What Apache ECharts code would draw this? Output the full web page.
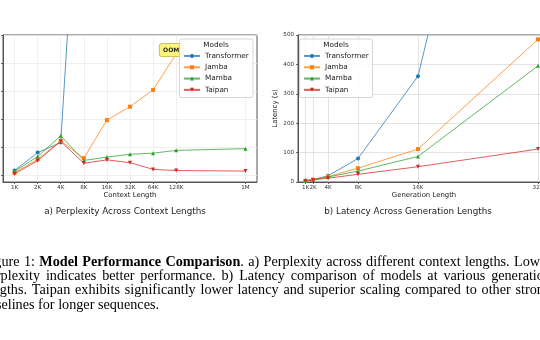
<!DOCTYPE html>
<html>
<head>
<meta charset="utf-8">
<script src="https://cdn.jsdelivr.net/npm/echarts@6/dist/echarts.min.js"></script>
<style>html,body{margin:0;padding:0;background:#fff}#c{width:540px;height:340px}</style>
</head>
<body>
<div id="c"></div>
<script>
// ---- data ----
const modelNames = ['Transformer', 'Jamba', 'Mamba', 'Taipan'];
const modelColors = ['#1f77b4', '#ff7f0e', '#2ca02c', '#d62728'];
const modelSymbols = ['circle', 'rect', 'triangle', 'triangle'];
const modelSymbolRotate = [0, 0, 0, 180];

// a) perplexity vs context length (K tokens)
const contextLabels = ['1K', '2K', '4K', '8K', '16K', '32K', '64K', '128K', '1M'];
const contextK = [1, 2, 4, 8, 16, 32, 64, 128, 1024];
const pplTransformer = [10.8, 14.0, 15.8, 82, null, null, null, null, null];
const pplJamba = [10.4, 12.8, 16.1, 13.0, 19.8, 22.2, 25.2, 31.6, null];
const pplMamba = [10.65, 13.3, 17.0, 12.6, 13.2, 13.7, 13.9, 14.4, 14.7];
const pplTaipan = [10.2, 12.55, 16.0, 12.1, 12.7, 12.2, 11.0, 10.8, 10.7];
const pplTicks = [10, 15, 20, 25, 30, 35];
const oomIndex = 7;

// b) latency vs generation length (K tokens)
const genLabels = ['1K', '2K', '4K', '8K', '16K', '32K'];
const genK = [1, 2, 4, 8, 16, 32];
const latTransformer = [4, 8, 21, 80, 360, 2050];
const latJamba = [4, 8, 18, 47, 112, 485];
const latMamba = [4, 8, 17, 37, 87, 395];
const latTaipan = [3, 7, 13, 26, 52, 112];
const latTicks = [0, 100, 200, 300, 400, 500];

// figure caption lines ([text, bold] segments)
const captionLines = [
  [['Figure 1: ', false], ['Model Performance Comparison', true], ['. a) Perplexity across different context lengths. Lower', false]],
  [['perplexity indicates better performance.  b) Latency comparison of models at various generation', false]],
  [['lengths.  Taipan exhibits significantly lower latency and superior scaling compared to other strong', false]],
  [['baselines for longer sequences.', false]]
];

const pplSeries = [pplTransformer, pplJamba, pplMamba, pplTaipan];
const latSeries = [latTransformer, latJamba, latMamba, latTaipan];

// ---- chart ----
const FONT = 'DejaVu Sans';
const SERIF = 'Liberation Serif';
const CAP_SIZE = 14.2;
const chart = echarts.init(document.getElementById('c'), null, { renderer: 'canvas' });

const ctxX = contextK.map(k => Math.log2(k));

function pplData(vals, si) {
  const out = [];
  vals.forEach((v, i) => {
    if (v === null) return;
    const item = { value: [ctxX[i], v] };
    if (si === 1 && i === oomIndex) {
      item.label = {
        show: true, formatter: 'OOM', position: 'inside', offset: [-5, -4],
        fontSize: 6, fontWeight: 'bold', color: '#222', fontFamily: FONT,
        backgroundColor: '#fdf57a', borderColor: '#b8b060', borderWidth: 0.8,
        borderRadius: 3, padding: [3.5, 3.5, 3, 3.5]
      };
    }
    out.push(item);
  });
  return out;
}

const series = [];
modelNames.forEach((name, si) => {
  const common = {
    name, type: 'line', symbol: modelSymbols[si], symbolRotate: modelSymbolRotate[si],
    symbolSize: 4, showSymbol: true, animation: false, clip: true,
    lineStyle: { width: 1, color: modelColors[si], opacity: 0.75 },
    itemStyle: { color: modelColors[si] }, z: 2
  };
  series.push(Object.assign({}, common, {
    xAxisIndex: 0, yAxisIndex: 0, data: pplData(pplSeries[si], si)
  }));
  series.push(Object.assign({}, common, {
    xAxisIndex: 1, yAxisIndex: 1, data: genK.map((k, i) => [k, latSeries[si][i]])
  }));
});

// justified caption text layout
const mctx = document.createElement('canvas').getContext('2d');
function measure(t, bold) {
  mctx.font = (bold ? 'bold ' : '') + CAP_SIZE + 'px "' + SERIF + '"';
  return mctx.measureText(t).width;
}
const capLeft = -17.5, capRight = 551, capTop = 262, capLead = 14.3;
const captionGraphics = [];
captionLines.forEach((segs, li) => {
  const words = [];
  segs.forEach(([txt, bold]) => {
    const parts = txt.split(/(\s+)/);
    parts.forEach(p => {
      if (p === '') return;
      if (/^\s+$/.test(p)) { words.push({ space: true }); return; }
      const last = words[words.length - 1];
      if (last && !last.space) { last.pieces.push([p, bold]); }
      else words.push({ pieces: [[p, bold]] });
    });
  });
  const ws = words.filter(w => !w.space);
  ws.forEach(w => { w.width = w.pieces.reduce((s, [p, b]) => s + measure(p, b), 0); });
  const total = ws.reduce((s, w) => s + w.width, 0);
  const justify = li < captionLines.length - 1;
  const gap = justify ? (capRight - capLeft - total) / (ws.length - 1) : measure(' ', false);
  let x = capLeft;
  const y = capTop + li * capLead;
  ws.forEach(w => {
    let px = x;
    w.pieces.forEach(([p, b]) => {
      captionGraphics.push({
        type: 'text', x: px, y,
        style: { text: p, fontSize: CAP_SIZE, fontFamily: SERIF, fontWeight: b ? 'bold' : 'normal', fill: '#000', verticalAlign: 'middle' }
      });
      px += measure(p, b);
    });
    x += w.width + gap;
  });
});

const tickStyle = { show: true, length: 2, inside: false, lineStyle: { color: '#444', width: 0.8 } };
const labelStyle = { fontSize: 5.6, color: '#333', fontFamily: FONT };

const option = {
  animation: false,
  textStyle: { fontFamily: FONT },
  grid: [
    { left: 3, top: 35, width: 254, height: 147, show: true, borderColor: '#555', borderWidth: 1, outerBoundsMode: 'none', containLabel: false },
    { left: 298, top: 35, width: 252, height: 147, show: true, borderColor: '#555', borderWidth: 1, outerBoundsMode: 'none', containLabel: false }
  ],
  xAxis: [
    {
      type: 'value', gridIndex: 0, min: -0.5, max: 10.5,
      axisLine: { show: true, onZero: false, lineStyle: { color: '#555', width: 1 } },
      axisTick: Object.assign({}, tickStyle, { customValues: ctxX }),
      axisLabel: Object.assign({}, labelStyle, {
        customValues: ctxX, margin: 3,
        formatter: v => contextLabels[ctxX.indexOf(v)] || ''
      }),
      splitLine: { show: true, lineStyle: { color: '#ececec', width: 0.8 } },
      name: 'Context Length', nameLocation: 'middle', nameGap: 9.5,
      nameTextStyle: { fontSize: 6.9, color: '#222', fontFamily: FONT, verticalAlign: 'top' }
    },
    {
      type: 'value', gridIndex: 1, min: 0, max: 33.6,
      axisLine: { show: true, onZero: false, lineStyle: { color: '#555', width: 1 } },
      axisTick: Object.assign({}, tickStyle, { customValues: genK }),
      axisLabel: Object.assign({}, labelStyle, {
        customValues: genK, margin: 3,
        formatter: v => genLabels[genK.indexOf(v)] || ''
      }),
      splitLine: { show: true, lineStyle: { color: '#dcdcdc', width: 0.8 } },
      name: 'Generation Length', nameLocation: 'middle', nameGap: 9.5,
      nameTextStyle: { fontSize: 6.9, color: '#222', fontFamily: FONT, verticalAlign: 'top' }
    }
  ],
  yAxis: [
    {
      type: 'value', gridIndex: 0, min: 8.75, max: 35,
      axisLine: { show: true, onZero: false, lineStyle: { color: '#555', width: 1 } },
      axisTick: Object.assign({}, tickStyle, { customValues: pplTicks }),
      axisLabel: { show: false, customValues: pplTicks },
      splitLine: { show: true, lineStyle: { color: '#ececec', width: 0.8 } }
    },
    {
      type: 'value', gridIndex: 1, min: 0, max: 500,
      axisLine: { show: true, onZero: false, lineStyle: { color: '#555', width: 1 } },
      axisTick: Object.assign({}, tickStyle, { customValues: latTicks }),
      axisLabel: Object.assign({}, labelStyle, { customValues: latTicks, margin: 4 }),
      splitLine: { show: true, lineStyle: { color: '#dcdcdc', width: 0.8 } },
      name: 'Latency (s)', nameLocation: 'middle', nameGap: 19,
      nameTextStyle: { fontSize: 6.9, color: '#222', fontFamily: FONT }
    }
  ],
  legend: [
    {
      data: modelNames, orient: 'vertical', left: 183, top: 51.8,
      itemWidth: 16, itemHeight: 5, itemGap: 3, padding: 0,
      textStyle: { fontSize: 7.3, lineHeight: 8.3, color: '#222', fontFamily: FONT },
      selectedMode: false
    },
    {
      data: modelNames, orient: 'vertical', left: 303, top: 51.8,
      itemWidth: 16, itemHeight: 5, itemGap: 3, padding: 0,
      textStyle: { fontSize: 7.3, lineHeight: 8.3, color: '#222', fontFamily: FONT },
      selectedMode: false
    }
  ],
  graphic: [
    { type: 'rect', z: 3, shape: { x: 179.5, y: 39, width: 73.5, height: 58.5, r: 2 },
      style: { fill: 'rgba(255,255,255,0.85)', stroke: '#cccccc', lineWidth: 0.8 } },
    { type: 'rect', z: 3, shape: { x: 299.5, y: 39, width: 73, height: 58.5, r: 2 },
      style: { fill: 'rgba(255,255,255,0.85)', stroke: '#cccccc', lineWidth: 0.8 } },
    { type: 'text', z: 5, x: 216, y: 45, style: { text: 'Models', fontSize: 7.3, fontFamily: FONT, fill: '#222', align: 'center', verticalAlign: 'middle' } },
    { type: 'text', z: 5, x: 336, y: 45, style: { text: 'Models', fontSize: 7.3, fontFamily: FONT, fill: '#222', align: 'center', verticalAlign: 'middle' } },
    { type: 'text', x: 125, y: 211.5, style: { text: 'a) Perplexity Across Context Lengths', fontSize: 8.8, fontFamily: FONT, fill: '#222', align: 'center', verticalAlign: 'middle' } },
    { type: 'text', x: 408, y: 211.5, style: { text: 'b) Latency Across Generation Lengths', fontSize: 8.8, fontFamily: FONT, fill: '#222', align: 'center', verticalAlign: 'middle' } }
  ].concat(captionGraphics),
  series
};
chart.setOption(option);
</script>
</body>
</html>
